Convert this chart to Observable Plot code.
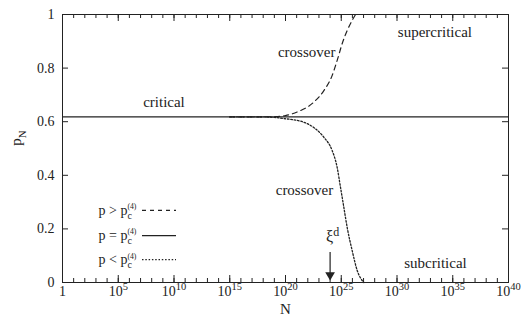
<!DOCTYPE html>
<html><head><meta charset="utf-8">
<script src="https://cdn.jsdelivr.net/npm/d3@7"></script>
<script src="https://cdn.jsdelivr.net/npm/@observablehq/plot@0.6"></script>
<style>
body{margin:0;background:#fff}
#chart svg{display:block}
#chart svg, #chart svg text, #chart svg tspan { font-family: "Liberation Serif", "Tinos", "Times New Roman", Times, "DejaVu Serif", serif !important; }
</style>
</head><body><div id="chart"></div>
<script>
// ---- data ----
const xTickExps = [0, 5, 10, 15, 20, 25, 30, 35, 40];          // labelled decades
const xMinorExps = d3.range(0, 41);                              // every decade
const yTicks = [0, 0.2, 0.4, 0.6, 0.8, 1];
const yTickLabels = ["0", "0.2", "0.4", "0.6", "0.8", "1"];
const pc = 0.618;                                                // critical value
const superLogN = [15, 17, 18, 19, 20, 21.04, 22.54, 23.44, 24.18, 24.63, 25.08, 25.53, 25.98, 26.28];
const superP    = [0.618, 0.618, 0.618, 0.619, 0.623, 0.636, 0.673, 0.716, 0.772, 0.828, 0.891, 0.94, 0.978, 1.0];
const subLogN   = [15, 17, 18, 19, 20, 21.64, 22.54, 23.44, 24.18, 24.63, 24.93, 25.23, 25.53, 25.98, 26.43, 27.03];
const subP      = [0.618, 0.618, 0.618, 0.616, 0.611, 0.598, 0.578, 0.542, 0.493, 0.43, 0.356, 0.281, 0.206, 0.119, 0.045, 0.0];
const xiLogN = 24;                                               // position of xi^d
const legendLabels = ["p > p_{c}^{(4)}", "p = p_{c}^{(4)}", "p < p_{c}^{(4)}"];

const superData = superLogN.map((e, i) => ({N: 10 ** e, p: superP[i]}));
const subData = subLogN.map((e, i) => ({N: 10 ** e, p: subP[i]}));

// ---- layout ----
const W = 524, H = 320, mL = 62, mR = 16, mT = 14, mB = 38;
const pW = W - mL - mR, pH = H - mT - mB;
const ink = "#222";
const serif = "'Liberation Serif','Times New Roman','DejaVu Serif',serif";

const chart = Plot.plot({
  width: W, height: H,
  marginLeft: mL, marginRight: mR, marginTop: mT, marginBottom: mB,
  style: {fontFamily: serif, color: ink, background: "#fff"},
  x: {type: "log", domain: [1, 1e40], axis: null},
  y: {domain: [0, 1], axis: null},
  marks: [
    // ticks (inward)
    Plot.tickX(xMinorExps, {x: d => 10 ** d, insetTop: pH - 4, stroke: ink}),
    Plot.tickX(xTickExps, {x: d => 10 ** d, insetTop: pH - 7, stroke: ink}),
    Plot.tickX(xMinorExps, {x: d => 10 ** d, insetBottom: pH - 4, stroke: ink}),
    Plot.tickX(xTickExps, {x: d => 10 ** d, insetBottom: pH - 7, stroke: ink}),
    Plot.tickY(yTicks, {y: d => d, insetRight: pW - 6, stroke: ink}),
    Plot.tickY(yTicks, {y: d => d, insetLeft: pW - 6, stroke: ink}),
    // tick labels
    Plot.text(xTickExps, {x: d => 10 ** d, frameAnchor: "bottom", dy: 13,
      text: d => d === 0 ? "1" : `10^{${d}}`, fontSize: 14, fill: ink}),
    Plot.text(yTicks, {y: d => d, frameAnchor: "left", dx: -8, textAnchor: "end",
      text: (d, i) => yTickLabels[i], fontSize: 14, fill: ink}),
    // axis labels
    Plot.text(["N"], {x: 1e20, frameAnchor: "bottom", dy: 31, text: d => d, fontSize: 15, fill: ink}),
    Plot.text(["p_{N}"], {y: 0.51, frameAnchor: "left", dx: -46, rotate: -90, text: d => d, fontSize: 15, fill: ink}),
    // curves
    Plot.ruleY([pc], {stroke: ink, strokeWidth: 1.3}),
    Plot.line(superData, {x: "N", y: "p", curve: "monotone-x", stroke: ink, strokeWidth: 1.2, strokeDasharray: "5,4"}),
    Plot.line(subData, {x: "N", y: "p", curve: "monotone-x", stroke: ink, strokeWidth: 1.3, strokeDasharray: "1.6,1.8"}),
    // annotations
    Plot.text(["critical"], {x: 10 ** 9.1, y: 0.672, text: d => d, fontSize: 15, fill: ink}),
    Plot.text(["crossover"], {x: 10 ** 21.9, y: 0.858, text: d => d, fontSize: 15, fill: ink}),
    Plot.text(["supercritical"], {x: 10 ** 33.4, y: 0.933, text: d => d, fontSize: 15, fill: ink}),
    Plot.text(["crossover"], {x: 10 ** 21.7, y: 0.343, text: d => d, fontSize: 15, fill: ink}),
    Plot.text(["subcritical"], {x: 10 ** 33.45, y: 0.071, text: d => d, fontSize: 15, fill: ink}),
    Plot.text(["ξ^{d}"], {x: 10 ** xiLogN, y: 0.17, dx: -4, textAnchor: "start", text: d => d, fontSize: 16, fill: ink}),
    Plot.ruleX([10 ** xiLogN], {y1: 0.112, y2: 0.03, stroke: ink, strokeWidth: 1.2}),
    Plot.dot([10 ** xiLogN], {x: d => d, y: 0.028, symbol: "triangle", r: 3.6, fill: ink, stroke: "none", rotate: 180}),
    // legend
    Plot.text(legendLabels, {y: (d, i) => [0.269, 0.175, 0.085][i], frameAnchor: "left", dx: 36,
      textAnchor: "start", text: d => d, fontSize: 14, fill: ink}),
    Plot.tickY([0.269], {y: d => d, insetLeft: 80, insetRight: W - mR - 176, stroke: ink, strokeWidth: 1.1, strokeDasharray: "4,4"}),
    Plot.tickY([0.175], {y: d => d, insetLeft: 80, insetRight: W - mR - 176, stroke: ink, strokeWidth: 1.3}),
    Plot.tickY([0.085], {y: d => d, insetLeft: 80, insetRight: W - mR - 176, stroke: ink, strokeWidth: 1.2, strokeDasharray: "1.5,1.8"}),
    Plot.frame({stroke: ink, strokeWidth: 1})
  ]
});
document.getElementById("chart").appendChild(chart);

// rich text: _{sub} and ^{sup}, stacking a sup right after a sub
function richify(svg) {
  const ns = "http://www.w3.org/2000/svg";
  svg.querySelectorAll("text").forEach(t => {
    const s = t.textContent;
    if (!/[_^]\{/.test(s)) return;
    const fs = parseFloat(getComputedStyle(t).fontSize) || 14;
    const re = /([_^])\{([^}]*)\}|([^_^]+)/g;
    t.textContent = "";
    let cur = 0, prevType = null, prevNode = null, m;
    while ((m = re.exec(s))) {
      const ts = document.createElementNS(ns, "tspan");
      let target = 0, size = fs, type = "n", txt = m[3];
      if (m[1] === "_") { type = "sub"; target = 0.3 * fs; size = 0.72 * fs; txt = m[2]; }
      if (m[1] === "^") { type = "sup"; target = -0.4 * fs; size = (prevType === "sub" ? 0.55 : 0.75) * fs; txt = m[2]; }
      ts.textContent = txt;
      ts.setAttribute("font-size", size);
      if (target !== cur) ts.setAttribute("dy", target - cur);
      cur = target;
      if (type === "sup" && prevType === "sub" && prevNode) {
        ts.setAttribute("dx", -prevNode.getComputedTextLength());
      }
      t.appendChild(ts);
      prevType = type; prevNode = ts;
    }
  });
}
richify(chart);
</script>
</body></html>
